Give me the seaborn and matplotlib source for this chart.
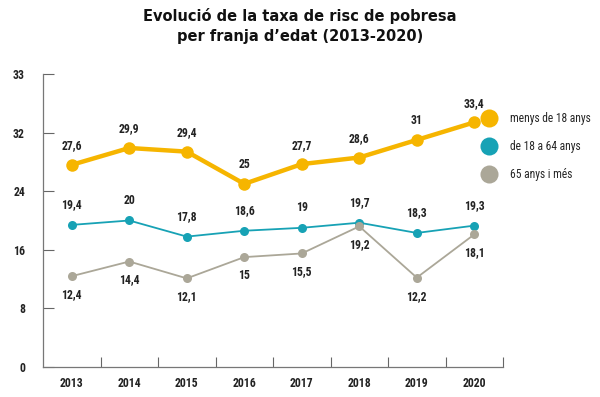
import matplotlib

matplotlib.use("Agg")
import matplotlib.pyplot as plt
import pandas as pd
import seaborn as sns
from matplotlib import font_manager
from matplotlib.lines import Line2D

# Data
years = ["2013", "2014", "2015", "2016", "2017", "2018", "2019", "2020"]
under_18 = [27.6, 29.9, 29.4, 25.0, 27.7, 28.6, 31.0, 33.4]
age_18_64 = [19.4, 20.0, 17.8, 18.6, 19.0, 19.7, 18.3, 19.3]
over_65 = [12.4, 14.4, 12.1, 15.0, 15.5, 19.2, 12.2, 18.1]
groups = ["menys de 18 anys", "de 18 a 64 anys", "65 anys i més"]
y_ticks = [0, 8, 16, 24, 32, 40]
y_tick_labels = ["0", "8", "16", "24", "32", "33"]
title = "Evolució de la taxa de risc de pobresa\nper franja d\u2019edat (2013-2020)"


def fmt(v):
    s = f"{v:.1f}".replace(".", ",")
    return s[:-2] if s.endswith(",0") else s


def main():
    sns.set_style("white")
    names = {f.name for f in font_manager.fontManager.ttflist}
    candidates = ["Liberation Sans Narrow", "DejaVu Sans Condensed", "Roboto Condensed"]
    narrow = next((c for c in candidates if c in names), "DejaVu Sans")
    plt.rcParams["font.family"] = [narrow, "DejaVu Sans"]
    plt.rcParams["font.stretch"] = "condensed"

    df = pd.DataFrame(
        {
            "year": years * 3,
            "value": under_18 + age_18_64 + over_65,
            "group": [groups[0]] * 8 + [groups[1]] * 8 + [groups[2]] * 8,
        }
    )

    colors = {groups[0]: "#F6B500", groups[1]: "#17A2B5", groups[2]: "#ABA798"}
    widths = {groups[0]: 3.2, groups[1]: 1.3, groups[2]: 1.3}
    msizes = {groups[0]: 9, groups[1]: 6.5, groups[2]: 6.5}
    # label offsets in points (above for first two series, below for 65+)
    offsets = {groups[0]: 9, groups[1]: 10, groups[2]: -18}

    fig = plt.figure(figsize=(6, 3.97), dpi=100)
    ax = fig.add_axes([0.0717, 0.0756, 0.7667, 0.738])

    for g in groups:
        sub = df[df["group"] == g]
        sns.lineplot(
            data=sub,
            x="year",
            y="value",
            color=colors[g],
            linewidth=widths[g],
            marker="o",
            markersize=msizes[g],
            markeredgewidth=0,
            ax=ax,
            clip_on=False,
        )
        for i, v in enumerate(sub["value"]):
            ax.annotate(
                fmt(v),
                (i, v),
                xytext=(0, offsets[g]),
                textcoords="offset points",
                ha="center",
                va="bottom",
                fontsize=8.5,
                fontweight="bold",
                color="#222222",
            )

    ax.set_xlim(-0.5, 7.5)
    ax.set_ylim(0, 40)
    ax.set_yticks(y_ticks)
    ax.set_yticklabels(y_tick_labels)
    ax.set_xticks(range(len(years)))
    ax.set_xticklabels(years)
    ax.set_xticks([i + 0.5 for i in range(len(years))], minor=True)
    ax.tick_params(axis="x", which="major", bottom=True, length=0, pad=7, labelsize=8.5)
    ax.tick_params(axis="x", which="minor", bottom=True, direction="in", length=7,
                   width=0.8, color="#666666")
    ax.tick_params(axis="y", which="major", left=True, direction="in", length=8, width=0.8,
                   color="#666666", pad=13, labelsize=8.5)
    for lab in ax.get_xticklabels() + ax.get_yticklabels():
        lab.set_fontweight("bold")
        lab.set_color("#222222")
    ax.set_xlabel("")
    ax.set_ylabel("")
    for side in ["top", "right"]:
        ax.spines[side].set_visible(False)
    for side in ["left", "bottom"]:
        ax.spines[side].set_color("#777777")
        ax.spines[side].set_linewidth(0.9)

    handles = [
        Line2D([], [], linestyle="none", marker="o", markersize=13, markeredgewidth=0, color=colors[g])
        for g in groups
    ]
    fig.legend(
        handles,
        groups,
        loc="upper left",
        bbox_to_anchor=(0.786, 0.745),
        frameon=False,
        fontsize=8.3,
        handletextpad=1.2,
        labelspacing=1.3,
        handlelength=1.2,
    )

    fig.text(0.5, 0.98, title, ha="center", va="top", fontsize=10.5, fontweight="bold",
             family=["DejaVu Sans"], fontstretch="normal", linespacing=1.4,
             color="#111111")

    fig.savefig("out.png", dpi=100)
    plt.close(fig)


if __name__ == "__main__":
    main()
